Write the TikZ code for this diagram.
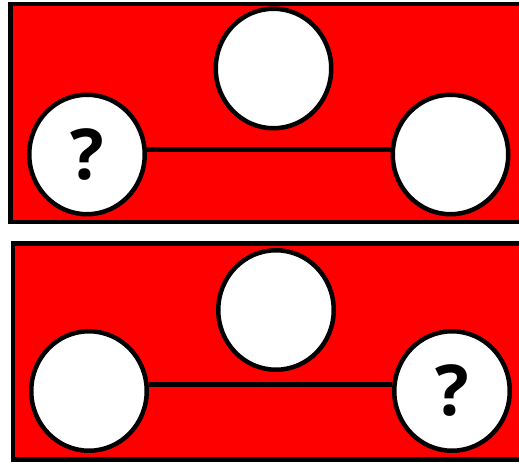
\documentclass[tikz,border=0pt]{standalone}
\usepackage{fontspec}
\setsansfont{Open Sans}
\usetikzlibrary{shapes.geometric}
\definecolor{panelred}{HTML}{FF0000}

\begin{document}
\begin{tikzpicture}[x=0.02cm, y=-0.02cm,
    panel/.style={fill=panelred, draw=black, line width=0.09cm},
    slot/.style={ellipse, fill=white, draw=black, line width=0.09cm,
      minimum width=2.31cm, minimum height=2.39cm, inner sep=0pt,
      font=\sffamily\bfseries\fontsize{40}{48}\selectfont},
    link/.style={draw=black, line width=0.09cm}]
  % 1 unit = 1 px of the 519 x 462 frame, y downwards
  \clip (0,0) rectangle (519,462);

  % --- upper panel: unknown on the left ---
  \def\yA{154.5}
  \fill[panel] (10.5,4) rectangle (540,222);
  \node[slot] (aTop)   at (273.5,68.5) {};
  \node[slot] (aLeft)  at (87,\yA) {?};
  \node[slot] (aRight) at (450.5,\yA) {};
  \draw[link] (aLeft.5) -- (aRight.175);

  % --- lower panel: unknown on the right ---
  \def\yB{391}
  \fill[panel] (13,243.5) rectangle (540,459.5);
  \node[slot] (bTop)   at (276,310) {};
  \node[slot] (bLeft)  at (89,\yB) {};
  \node[slot] (bRight) at (452,\yB) {?};
  \draw[link] (bLeft.6) -- (bRight.174);

\end{tikzpicture}
\end{document}
